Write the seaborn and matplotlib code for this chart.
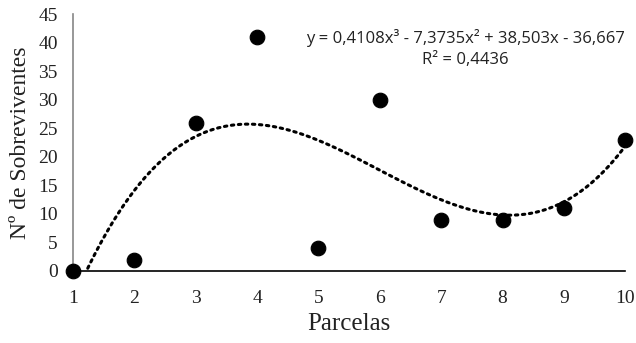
import numpy as np
import pandas as pd
import matplotlib
matplotlib.use("Agg")
import matplotlib.pyplot as plt
import seaborn as sns

# data
parcelas = [1, 2, 3, 4, 5, 6, 7, 8, 9, 10]
sobreviventes = [0, 2, 26, 41, 4, 30, 9, 9, 11, 23]
x_ticks = [1, 2, 3, 4, 5, 6, 7, 8, 9, 10]
y_ticks = [0, 5, 10, 15, 20, 25, 30, 35, 40, 45]
eq_label = "y = 0,4108x³ - 7,3735x² + 38,503x - 36,667"
r2_label = "R² = 0,4436"

SERIF = ["Liberation Serif", "DejaVu Serif"]
SANS = ["Open Sans", "DejaVu Sans"]
AXIS_GRAY = "#868686"


def main():
    df = pd.DataFrame({"Parcelas": parcelas, "Sobreviventes": sobreviventes})

    sns.set_style("white")
    plt.rcParams["font.family"] = SERIF

    fig = plt.figure(figsize=(6.36, 3.43), dpi=100)
    ax = fig.add_axes([0.115, 0.21, 0.868, 0.749])

    # cubic trend line (polynomial fit done by seaborn)
    sns.regplot(data=df, x="Parcelas", y="Sobreviventes", order=3, ci=None,
                scatter=False, ax=ax,
                line_kws=dict(color="black", linestyle=(0, (0.8, 1.5)), linewidth=2.2,
                              dash_capstyle="round"))
    sns.scatterplot(data=df, x="Parcelas", y="Sobreviventes", ax=ax,
                    color="black", s=110, edgecolor="black", zorder=5, clip_on=False)

    ax.set_xlim(1, 10)
    ax.set_ylim(0, 45)
    ax.set_xticks(x_ticks)
    ax.set_yticks(y_ticks)
    ax.tick_params(axis="both", direction="out", length=5, width=1, color=AXIS_GRAY,
                   labelsize=14, labelcolor="#222222")
    ax.tick_params(axis="x", pad=9)
    ax.tick_params(axis="y", pad=6)
    for lab in ax.get_xticklabels() + ax.get_yticklabels():
        lab.set_family(SERIF)

    for side in ["top", "right"]:
        ax.spines[side].set_visible(False)
    ax.spines["left"].set_color(AXIS_GRAY)
    ax.spines["left"].set_linewidth(1.2)
    ax.spines["bottom"].set_color("black")
    ax.spines["bottom"].set_linewidth(1.2)

    ax.set_xlabel("Parcelas", fontsize=18, family=SERIF, color="#222222", labelpad=4)
    ax.set_ylabel("Nº de Sobreviventes", fontsize=17, family=SERIF, color="#222222", labelpad=5)

    ax.text(7.39, 40.8, eq_label, ha="center", va="center", fontsize=12, family=SANS, color="#222222")
    ax.text(7.39, 36.9, r2_label, ha="center", va="center", fontsize=12, family=SANS, color="#222222")

    fig.savefig("out.png", dpi=100)
    plt.close(fig)


if __name__ == "__main__":
    main()
